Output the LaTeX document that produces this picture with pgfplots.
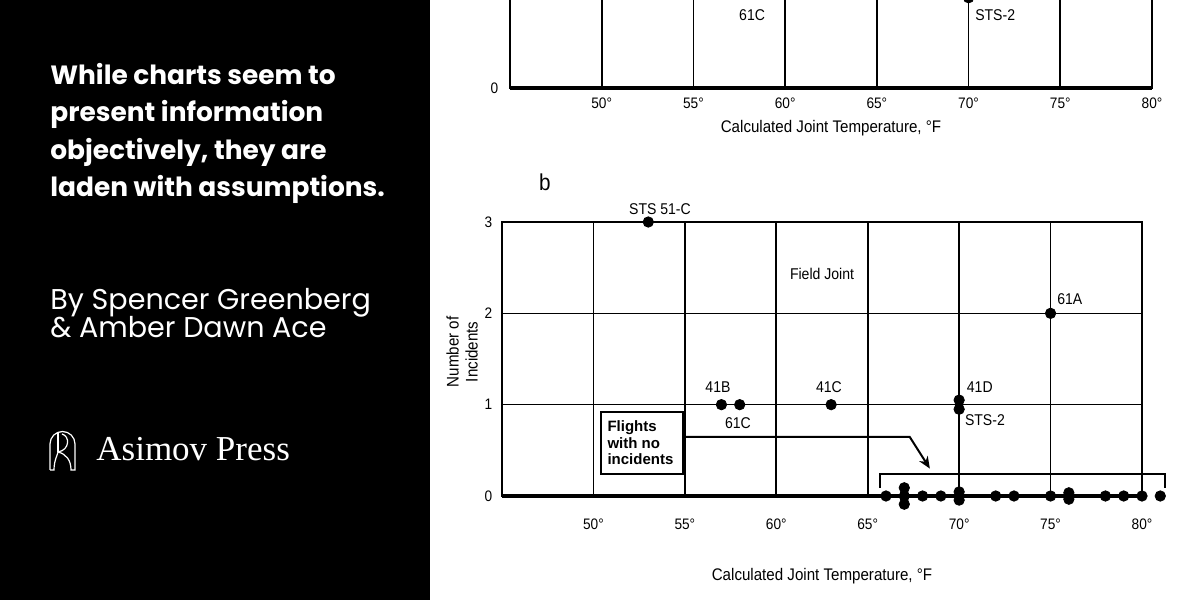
\documentclass[border=0pt]{standalone}
\usepackage{fontspec}
\usepackage{pgfplots}
\pgfplotsset{compat=1.18}
\usetikzlibrary{arrows.meta}
\setmainfont{Liberation Sans}
\newfontfamily\chartfont{Liberation Sans}[FakeStretch=0.9]
\newfontfamily\boxfont{Liberation Sans}
\newfontfamily\poppins{Poppins}
\newfontfamily\pressfont{Liberation Serif}

\pgfplotsset{
  chartstyle/.style={
    scale only axis, xmin=45, xmax=80,
    axis line style={line width=0.9pt},
    grid=major, major grid style={black, line width=0.8pt},
    tick style={draw=none},
    xtick={50,55,60,65,70,75,80},
    xticklabels={50°,55°,60°,65°,70°,75°,80°},
    ticklabel style={font=\chartfont\fontsize{7.6}{9}\selectfont},
    label style={font=\chartfont\fontsize{8.4}{9.5}\selectfont},
    clip=false,
  },
  dots/.style={only marks, mark=*, mark size=2.6pt, black},
}
\newcommand{\cf}{\chartfont\fontsize{7.8}{9}\selectfont}

\begin{document}
\begin{tikzpicture}
\useasboundingbox (0,0) rectangle (600pt,300pt);
\clip (0,0) rectangle (600pt,300pt);
\fill[white] (0,0) rectangle (600pt,300pt);

% ---------- top chart (cropped) ----------
\begin{axis}[chartstyle, at={(255pt,256pt)}, anchor=south west,
  width=321pt, height=47.5pt, ymin=0, ymax=1,
  ytick={0}, yticklabels={0},
  xticklabel style={yshift=-1.3pt}, yticklabel style={xshift=-2.4pt},
  xlabel={Calculated Joint Temperature, °F},
  xlabel style={at={(axis description cs:0.5,-0.42)}, anchor=center}]
\addplot[dots] coordinates {(53,3) (57,1) (58,1) (63,1) (70,1.05) (70,0.95) (75,2)};
\draw[line width=1.6pt] (axis cs:45,0) -- (axis cs:80,0);
\node[font=\cf] at (axis cs:58.2,0.77) {61C};
\node[font=\cf] at (axis cs:71.45,0.77) {STS-2};
\end{axis}

% ---------- bottom chart ----------
\begin{axis}[chartstyle, at={(251pt,52pt)}, anchor=south west,
  width=320pt, height=137pt, ymin=0, ymax=3,
  ytick={0,1,2,3}, yticklabels={0,1,2,3},
  xticklabel style={yshift=-8pt}, yticklabel style={xshift=-1.4pt},
  xlabel={Calculated Joint Temperature, °F},
  xlabel style={at={(axis description cs:0.5,-0.292)}, anchor=center},
  ylabel={Number of\\Incidents},
  ylabel style={at={(axis description cs:-0.0625,0.526)}, anchor=center, align=center}]
\draw[line width=1.6pt] (axis cs:45,0) -- (axis cs:80,0);
% flights with incidents
\addplot[dots] coordinates {(53,3) (57,1) (58,1) (63,1) (70,1.05) (70,0.95) (75,2)};
% flights with no incidents
\addplot[dots] coordinates {(66,0) (67,0.09) (67,0) (67,-0.09) (68,0) (69,0) (70,0.045) (70,-0.045)
  (72,0) (73,0) (75,0) (76,0.035) (76,-0.035) (78,0) (79,0) (80,0) (81,0)};
\node[font=\chartfont\fontsize{11.5}{12}\selectfont] at (axis cs:47.35,3.43) {b};
\node[font=\cf] at (axis cs:53.64,3.14) {STS 51-C};
\node[font=\cf] at (axis cs:62.5,2.43) {Field Joint};
\node[font=\cf] at (axis cs:76.05,2.16) {61A};
\node[font=\cf] at (axis cs:56.81,1.19) {41B};
\node[font=\cf] at (axis cs:62.88,1.19) {41C};
\node[font=\cf] at (axis cs:71.13,1.19) {41D};
\node[font=\cf] at (axis cs:71.41,0.83) {STS-2};
\node[font=\cf] at (axis cs:57.9,0.80) {61C};
% box
\draw[line width=1pt, fill=white] (axis cs:50.42,0.24) rectangle (axis cs:54.9,0.92);
\node[font=\boxfont\bfseries\fontsize{7.5}{8.25}\selectfont, align=left, anchor=west, inner sep=0]
  at (axis cs:50.75,0.58) {Flights\\with no\\incidents};
\draw[line width=1pt, -{Stealth[length=6pt,width=5pt]}] (axis cs:54.9,0.646) -- (axis cs:67.3,0.646) -- (axis cs:68.4,0.30);
% bracket
\draw[line width=0.8pt] (axis cs:65.67,0.09) -- (axis cs:65.67,0.24) -- (axis cs:81.25,0.24) -- (axis cs:81.25,0.09);
\end{axis}

% ---------- left panel ----------
\fill[black] (0,0) rectangle (215pt,300pt);
\begin{scope}[every node/.style={anchor=base west, inner sep=0, text=white}]
\node[font=\poppins\bfseries\fontsize{13.2}{15}\selectfont] at (25pt,257.5pt) {While charts seem to};
\node[font=\poppins\bfseries\fontsize{13.2}{15}\selectfont] at (25pt,239pt) {present information};
\node[font=\poppins\bfseries\fontsize{13.2}{15}\selectfont] at (25pt,220pt) {objectively, they are};
\node[font=\poppins\bfseries\fontsize{13.2}{15}\selectfont] at (25pt,201.5pt) {laden with assumptions.};
\node[font=\poppins\fontsize{14.3}{15}\selectfont] at (25pt,145pt) {By Spencer Greenberg};
\node[font=\poppins\fontsize{14.3}{15}\selectfont] at (25pt,131pt) {\& Amber Dawn Ace};
\node[font=\pressfont\fontsize{17.5}{19}\selectfont] at (48pt,69.5pt) {Asimov Press};
\end{scope}
% logo
\draw[white, line width=0.6pt] (25pt,65pt) -- (25pt,78pt) arc (180:0:6.25pt) -- (37.5pt,65pt) -- (35.5pt,65pt)
  .. controls (35.5pt,70pt) and (33pt,73pt) .. (29pt,74pt);
\draw[white, line width=0.6pt] (25pt,65pt) -- (27pt,65pt) .. controls (27pt,70pt) and (29pt,73pt) .. (29pt,74pt)
  .. controls (35pt,75pt) and (35pt,82pt) .. (31pt,83pt);
\draw[white, line width=0.6pt] (29pt,74pt) -- (29pt,83.5pt);
\end{tikzpicture}
\end{document}
